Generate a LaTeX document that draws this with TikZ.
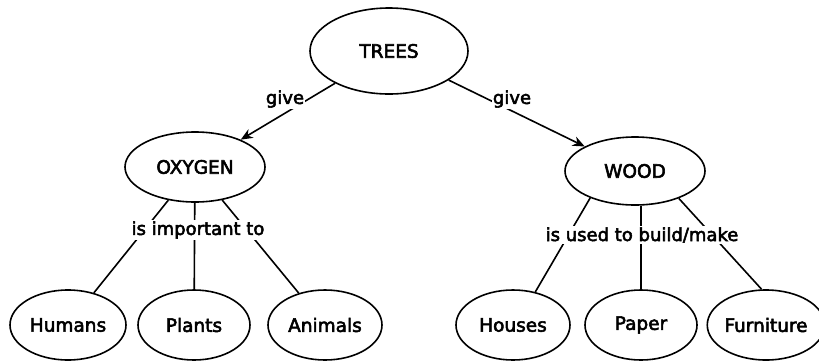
\documentclass[tikz,border=0pt]{standalone}
\usepackage{fontspec}
\setmainfont{DejaVu Sans}[FakeBold=3]
\usetikzlibrary{shapes.geometric,arrows.meta}
\begin{document}
\begin{tikzpicture}[x=1pt,y=-1pt,
  concept/.style={ellipse,draw,line width=1.6pt,inner sep=0pt,font=\fontsize{18.5}{20}\selectfont},
  link/.style={line width=1.6pt},
  arrowlink/.style={line width=1.6pt,-{Stealth[length=12pt,width=10pt]}},
  lbl/.style={fill=white,inner sep=1pt,font=\fontsize{18}{20}\selectfont}]
\useasboundingbox (0,0) rectangle (819,362);
\node[concept,minimum width=158pt,minimum height=86pt] (trees) at (389,51) {TREES};
\node[concept,minimum width=140pt,minimum height=70pt] (oxygen) at (195,167) {OXYGEN};
\node[concept,minimum width=140pt,minimum height=68pt] (wood) at (635,171) {WOOD};
\node[concept,minimum width=116pt,minimum height=70pt] (humans) at (68,325) {Humans};
\node[concept,minimum width=112pt,minimum height=70pt] (plants) at (194,325) {Plants};
\node[concept,minimum width=114pt,minimum height=70pt] (animals) at (325,325) {Animals};
\node[concept,minimum width=114pt,minimum height=70pt] (houses) at (513,325) {Houses};
\node[concept,minimum width=112pt,minimum height=70pt] (paper) at (641,325) {Paper};
\node[concept,minimum width=106pt,minimum height=70pt] (furniture) at (766,325) {Furniture};

\draw[arrowlink] (trees) -- (oxygen);
\draw[arrowlink] (trees) -- (wood);
\draw[link] (oxygen) -- (humans);
\draw[link] (oxygen) -- (plants);
\draw[link] (oxygen) -- (animals);
\draw[link] (wood.211.7) -- (houses.56);
\draw[link] (paper.north |- wood.south) -- (paper.north);
\draw[link] (wood.328.3) -- (furniture.97);

\node[lbl] (give1) at (285,99) {give};
\node[lbl] (give2) at (512,99) {give};
\node[lbl] (imp) at (198,230) {is important to};
\node[lbl] (used) at (642,235) {is used to build/make};
\end{tikzpicture}
\end{document}
